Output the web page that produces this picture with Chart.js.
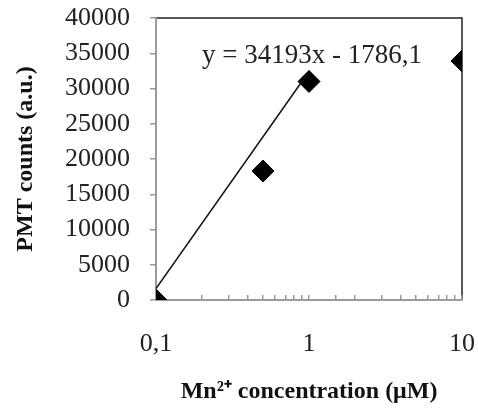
<!DOCTYPE html>
<html>
<head>
<meta charset="utf-8">
<script src="https://cdn.jsdelivr.net/npm/chart.js@4.4.0/dist/chart.umd.min.js"></script>
<style>
  html, body { margin: 0; padding: 0; background: #fff; }
  #wrap { width: 478px; height: 412px; }
</style>
</head>
<body>
<div id="wrap"><canvas id="mnChart" width="478" height="412"></canvas></div>
<script>
const concentrations = [0.1, 0.5, 1, 10];
const pmtCounts = [0, 18300, 31000, 33900];
const trendX = [0.1, 1];
const trendY = [34193 * 0.1 - 1786.1, 34193 * 1 - 1786.1];
const trendLabel = "y = 34193x - 1786,1";
const xLabels = { 0.1: "0,1", 1: "1", 10: "10" };

const tickFont = { family: "Liberation Serif", size: 26 };
const titleFont = { family: "Liberation Serif", size: 24, weight: "bold" };

// frame (top/right black) + equation text
const framePlugin = {
  id: "frame",
  beforeDraw(chart) {
    const a = chart.chartArea;
    const ctx = chart.ctx;
    ctx.save();
    ctx.strokeStyle = "#222";
    ctx.lineWidth = 1.5;
    ctx.beginPath();
    ctx.moveTo(a.left, a.top);
    ctx.lineTo(a.right, a.top);
    ctx.lineTo(a.right, a.bottom);
    ctx.stroke();
    ctx.restore();
  },
  afterDatasetsDraw(chart) {
    const ctx = chart.ctx;
    const x = chart.scales.x.getPixelForValue(1);
    const y = chart.scales.y.getPixelForValue(35000);
    ctx.save();
    ctx.font = "27px 'Liberation Serif'";
    ctx.fillStyle = "#222";
    ctx.textAlign = "center";
    ctx.textBaseline = "middle";
    ctx.fillText(trendLabel, x + 3, y + 3);
    ctx.restore();
  }
};

const chart = new Chart("mnChart", {
  type: "scatter",
  data: {
    datasets: [
      {
        label: "trend",
        type: "line",
        data: trendX.map((x, i) => ({ x: x, y: trendY[i] })),
        borderColor: "#111",
        borderWidth: 1.5,
        pointRadius: 0,
        fill: false,
      },
      {
        label: "PMT",
        data: concentrations.map((x, i) => ({ x: x, y: pmtCounts[i] })),
        pointStyle: "rectRot",
        pointRadius: 11,
        backgroundColor: "#000",
        borderColor: "#000",
        borderWidth: 1,
      },
    ],
  },
  options: {
    responsive: false,
    animation: false,
    layout: { padding: { top: 18, right: 16, left: 0, bottom: 0 } },
    plugins: {
      legend: { display: false },
      tooltip: { enabled: false },
    },
    scales: {
      x: {
        type: "logarithmic",
        min: 0.1,
        max: 10,
        afterFit(scale) {
          scale.height = 112;
          scale.paddingLeft = 0;
          scale.paddingRight = 0;
        },
        border: { color: "#9a9a9a", width: 2 },
        grid: { drawOnChartArea: false, drawTicks: true, tickLength: -5, color: "#9a9a9a", lineWidth: 1.5 },
        ticks: {
          autoSkip: false,
          maxRotation: 0,
          padding: 34,
          color: "#222",
          font: tickFont,
          callback(value) { return xLabels[value] || ""; },
        },
        title: {
          display: true,
          text: "Mn²⁺ concentration (μM)",
          color: "#111",
          font: titleFont,
          padding: { bottom: 6 },
        },
      },
      y: {
        min: 0,
        max: 40000,
        afterFit(scale) {
          scale.width = 156;
          scale.paddingTop = 0;
          scale.paddingBottom = 0;
        },
        border: { color: "#9a9a9a", width: 2 },
        grid: { drawOnChartArea: false, drawTicks: true, tickLength: 6, color: "#9a9a9a", lineWidth: 1.5 },
        ticks: {
          stepSize: 5000,
          padding: 20,
          color: "#222",
          font: tickFont,
          callback(value) { return String(value); },
        },
        title: {
          display: true,
          text: "PMT counts (a.u.)",
          color: "#111",
          font: titleFont,
          padding: { top: 11 },
        },
      },
    },
  },
  plugins: [framePlugin],
});
</script>
</body>
</html>
